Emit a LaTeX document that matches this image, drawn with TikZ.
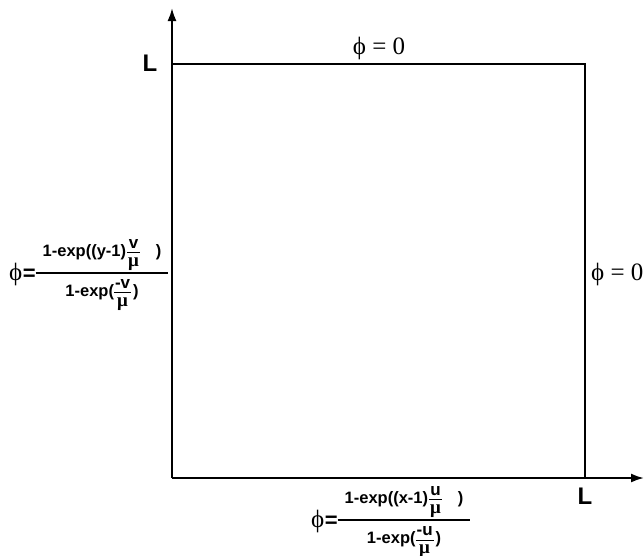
\RequirePackage{fix-cm}
\documentclass[tikz,border=0pt]{standalone}
\usepackage{graphicx}
\usepackage{fontspec}
\setmainfont{Liberation Sans}
\newfontfamily\phifont{Liberation Serif}
\usetikzlibrary{arrows.meta}
\newbox\fnumbox
\newbox\fdenbox
% #1 numerator, #2 denominator, #3 bar thickness, #4 gap above bar, #5 gap below bar, #6 side padding
\newcommand{\barfrac}[6]{{\setbox\fnumbox\hbox{#1}\setbox\fdenbox\hbox{#2}%
  \dimen0=\wd\fnumbox \ifdim\wd\fdenbox>\dimen0 \dimen0=\wd\fdenbox\fi
  \advance\dimen0 by #6 \advance\dimen0 by #6
  \hbox{\vbox{\hbox to\dimen0{\hfil\box\fnumbox\hfil}\kern#4\hrule height #3}%
  \kern-\dimen0
  \vtop{\kern#5\hbox to\dimen0{\hfil\box\fdenbox\hfil}}}}}
\newcommand{\bigt}{\fontsize{16.5}{16.5}\selectfont\bfseries}
\newcommand{\smallt}{\fontsize{17}{17}\selectfont\bfseries}
\newcommand{\mut}{{\phifont\fontsize{19}{19}\selectfont μ}}
\newcommand{\smfrac}[1]{\raisebox{3pt}{\barfrac{\smallt #1}{\mut}{1pt}{3.5pt}{4.5pt}{1pt}}}
\newcommand{\bcfrac}[2]{%
  \raisebox{-6pt}{{\phifont\fontsize{25}{25}\selectfont ϕ}\kern0.5pt{\fontsize{22}{22}\selectfont\bfseries =}}%
  \barfrac{\bigt 1-exp((#1-1)\kern1pt\smfrac{#2}\kern16pt)}%
          {\bigt 1-exp(\smfrac{-#2}\kern2pt)}{2pt}{1.5pt}{6pt}{7pt}}
\tikzset{
  axis/.style={line width=2pt,-{Latex[length=13pt,width=9pt]}},
  border/.style={line width=2pt},
  lbl/.style={font=\bfseries\fontsize{24}{24}\selectfont, inner sep=0pt},
  phizero/.style={font=\phifont\fontsize{25}{25}\selectfont, inner sep=0pt},
  bc/.style={inner sep=0pt, anchor=base west}
}
\begin{document}
\begin{tikzpicture}[x=1pt,y=-1pt]
\useasboundingbox (0,0) rectangle (644,555);
\coordinate (O) at (172,478);
\coordinate (Ytip) at (172,8);
\coordinate (Xtip) at (644,478);
\coordinate (TL) at (172,64);
\coordinate (TR) at (585,64);
\coordinate (BR) at (585,478);
\draw[axis] (O) -- (Ytip);
\draw[axis] (O) -- (Xtip);
\draw[border] (TL) -- (TR) -- (BR);
\node[lbl] (Ltop) at (150,63) {L};
\node[lbl] (Lbot) at (585,496) {L};
\node[phizero] (top) at (379,48) {ϕ = 0};
\node[phizero, anchor=west] (right) at (591,274) {ϕ = 0};
\node[bc] (left) at (9,274) {\bcfrac{y}{v}};
\node[bc] (bottom) at (311,521) {\bcfrac{x}{u}};
\end{tikzpicture}
\end{document}
